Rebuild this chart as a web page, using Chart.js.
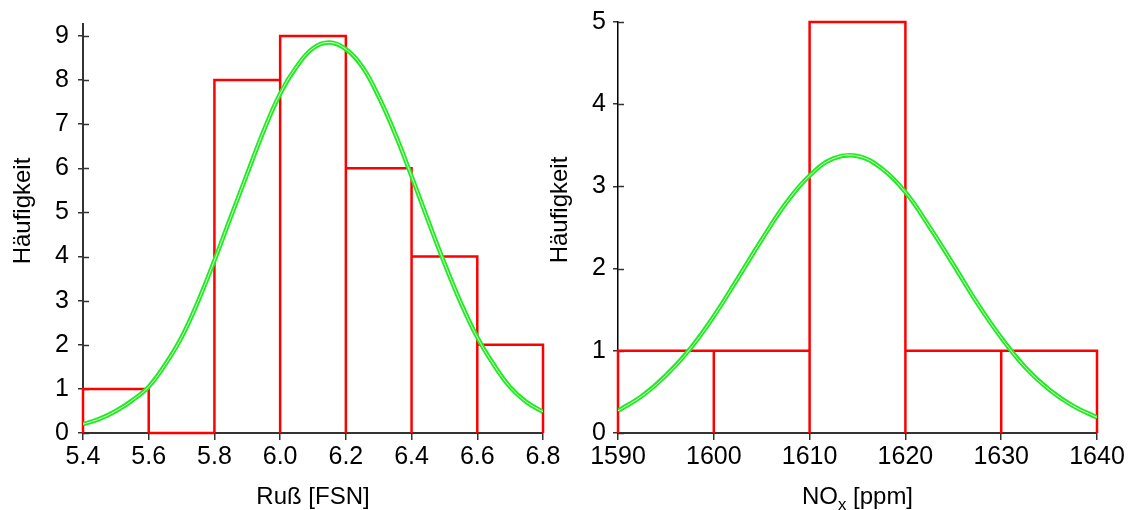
<!DOCTYPE html>
<html>
<head>
<meta charset="utf-8">
<script src="https://cdn.jsdelivr.net/npm/chart.js@4"></script>
<style>
  html, body { margin: 0; padding: 0; background: #ffffff; }
  body { width: 1137px; height: 510px; position: relative; overflow: hidden; }
  canvas { position: absolute; top: 0; }
  #c1 { left: 0px; }
  #c2 { left: 545px; }
</style>
</head>
<body>
<canvas id="c1" width="575" height="510"></canvas>
<canvas id="c2" width="592" height="510"></canvas>
<script>
// ---- Data: Ruß (soot) histogram ----
const rusBinEdges = [5.4, 5.6, 5.8, 6.0, 6.2, 6.4, 6.6, 6.8];
const rusCounts   = [1, 0, 8, 9, 6, 4, 2];
const rusCurveX = [5.40, 5.45, 5.50, 5.55, 5.60, 5.65, 5.70, 5.75, 5.80, 5.85, 5.90, 5.95, 6.00, 6.05, 6.10,
                   6.15, 6.20, 6.25, 6.30, 6.35, 6.40, 6.45, 6.50, 6.55, 6.60, 6.65, 6.70, 6.75, 6.80];
const rusCurveY = [0.20, 0.32, 0.50, 0.74, 1.05, 1.55, 2.17, 2.98, 3.91, 4.90, 5.88, 6.85, 7.69, 8.30, 8.72,
                   8.85, 8.70, 8.30, 7.62, 6.78, 5.82, 4.82, 3.85, 2.95, 2.17, 1.55, 1.04, 0.70, 0.48];
const rusXTicks = [5.4, 5.6, 5.8, 6.0, 6.2, 6.4, 6.6, 6.8];
const rusYTicks = [0, 1, 2, 3, 4, 5, 6, 7, 8, 9];

// ---- Data: NOx histogram ----
const noxBinEdges = [1590, 1600, 1610, 1620, 1630, 1640];
const noxCounts   = [1, 1, 5, 1, 1];
const noxCurveX = [1590, 1592.5, 1595, 1597.5, 1600, 1602.5, 1605, 1607.5, 1610, 1612.5, 1615,
                   1617.5, 1620, 1622.5, 1625, 1627.5, 1630, 1632.5, 1635, 1637.5, 1640];
const noxCurveY = [0.27, 0.45, 0.70, 1.02, 1.42, 1.88, 2.35, 2.79, 3.13, 3.34, 3.37,
                   3.22, 2.93, 2.51, 2.05, 1.58, 1.16, 0.80, 0.53, 0.33, 0.19];
const noxXTicks = [1590, 1600, 1610, 1620, 1630, 1640];
const noxYTicks = [0, 1, 2, 3, 4, 5];

// Build outline points for histogram bins (each bin: left edge up, top, right edge down; gap between bins)
function histOutline(edges, counts) {
  const pts = [];
  counts.forEach((c, i) => {
    const x0 = edges[i], x1 = edges[i + 1];
    pts.push({x: x0, y: 0}, {x: x0, y: c}, {x: x1, y: c}, {x: x1, y: 0}, {x: x1, y: null});
  });
  return pts;
}
function curvePoints(xs, ys) { return xs.map((x, i) => ({x: x, y: ys[i]})); }

const FONT = "'Liberation Sans', Arial, Helvetica, sans-serif";

// short inner tick marks on the y axis (reference ticks cross the axis line)
const innerTicks = {
  id: 'innerTicks',
  beforeDatasetsDraw(chart) {
    const ctx = chart.ctx, ys = chart.scales.y, ca = chart.chartArea;
    ctx.save();
    ctx.strokeStyle = '#333';
    ctx.lineWidth = 1.5;
    ys.ticks.forEach(t => {
      const py = Math.round(ys.getPixelForValue(t.value)) + 0.5;
      ctx.beginPath();
      ctx.moveTo(ca.left, py);
      ctx.lineTo(ca.left + 6, py);
      ctx.stroke();
    });
    ctx.restore();
  }
};

const titlePlugin = {
  id: 'axisTitles',
  afterDraw(chart, args, opts) {
    const ctx = chart.ctx;
    const ca = chart.chartArea;
    ctx.save();
    ctx.fillStyle = '#000';
    // y title
    ctx.font = opts.size + 'px ' + FONT;
    ctx.translate(opts.yBaseX, opts.yCenter);
    ctx.rotate(-Math.PI / 2);
    ctx.textAlign = 'center';
    ctx.textBaseline = 'alphabetic';
    ctx.fillText(opts.yText, 0, 0);
    ctx.setTransform(1, 0, 0, 1, 0, 0);
    // x title (supports parts with subscript)
    const parts = opts.xParts;
    let total = 0;
    const widths = parts.map(p => {
      ctx.font = (p.sub ? opts.size * 0.7 : opts.size) + 'px ' + FONT;
      const w = ctx.measureText(p.t).width; total += w; return w;
    });
    let x = (ca.left + ca.right) / 2 - total / 2;
    ctx.textAlign = 'left';
    parts.forEach((p, i) => {
      ctx.font = (p.sub ? opts.size * 0.7 : opts.size) + 'px ' + FONT;
      ctx.fillText(p.t, x, opts.xBaseY + (p.sub ? 6 : 0));
      x += widths[i];
    });
    ctx.restore();
  }
};

function makeChart(id, cfg) {
  return new Chart(document.getElementById(id), {
    type: 'line',
    data: {
      datasets: [
        { data: curvePoints(cfg.cx, cfg.cy), borderColor: 'rgba(255,255,255,0.85)', borderWidth: 1,
          pointRadius: 0, tension: 0.4, fill: false, order: 0 },
        { data: curvePoints(cfg.cx, cfg.cy), borderColor: '#1fec1f', borderWidth: 4.5,
          pointRadius: 0, tension: 0.4, fill: false, order: 1 },
        { data: histOutline(cfg.edges, cfg.counts), borderColor: '#ff0000', borderWidth: 2.5,
          pointRadius: 0, tension: 0, spanGaps: false, fill: false, order: 2, clip: 4 }
      ]
    },
    options: {
      responsive: false,
      animation: false,
      events: [],
      layout: { padding: { top: cfg.padTop, right: cfg.padRight, left: 0, bottom: 0 } },
      plugins: {
        legend: { display: false },
        tooltip: { enabled: false },
        axisTitles: cfg.titles
      },
      scales: {
        x: {
          type: 'linear',
          min: cfg.xTicks[0], max: cfg.xTicks[cfg.xTicks.length - 1],
          afterBuildTicks: s => { s.ticks = cfg.xTicks.map(v => ({value: v})); },
          afterFit: s => { s.height = cfg.xAxisH; },
          ticks: { color: '#000', font: { family: FONT, size: 25 }, padding: 2, maxRotation: 0,
                   callback: v => cfg.xFmt(v) },
          grid: { display: true, drawOnChartArea: false, drawTicks: true, tickLength: 7, color: '#333', lineWidth: 1.5 },
          border: { display: true, color: '#333', width: 2 }
        },
        y: {
          type: 'linear',
          min: 0, max: cfg.yMax,
          afterBuildTicks: s => { s.ticks = cfg.yTicks.map(v => ({value: v})); },
          afterFit: s => { s.width = cfg.yAxisW; },
          ticks: { color: '#000', font: { family: FONT, size: 25 }, padding: cfg.yPad,
                   callback: v => String(v) },
          grid: { display: true, drawOnChartArea: false, drawTicks: true, tickLength: 5, color: '#333', lineWidth: 1.5 },
          border: { display: true, color: cfg.yBorderColor, width: cfg.yBorderW }
        }
      }
    },
    plugins: [innerTicks, titlePlugin]
  });
}

makeChart('c1', {
  edges: rusBinEdges, counts: rusCounts, cx: rusCurveX, cy: rusCurveY,
  xTicks: rusXTicks, yTicks: rusYTicks, yMax: 9.27,
  xFmt: v => v.toFixed(1),
  padTop: 23, padRight: 32, xAxisH: 77, yAxisW: 83, yPad: 9,
  yBorderColor: '#333', yBorderW: 2,
  titles: { size: 24, yText: 'Häufigkeit', yBaseX: 30, yCenter: 211,
            xParts: [{t: 'Ruß [FSN]'}], xBaseY: 504 }
});

makeChart('c2', {
  edges: noxBinEdges, counts: noxCounts, cx: noxCurveX, cy: noxCurveY,
  xTicks: noxXTicks, yTicks: noxYTicks, yMax: 5,
  xFmt: v => String(v),
  padTop: 22, padRight: 40, xAxisH: 77, yAxisW: 73, yPad: 7,
  yBorderColor: '#000', yBorderW: 1.5,
  titles: { size: 24, yText: 'Häufigkeit', yBaseX: 22, yCenter: 210,
            xParts: [{t: 'NO'}, {t: 'x', sub: true}, {t: ' [ppm]'}], xBaseY: 504 }
});
</script>
</body>
</html>
